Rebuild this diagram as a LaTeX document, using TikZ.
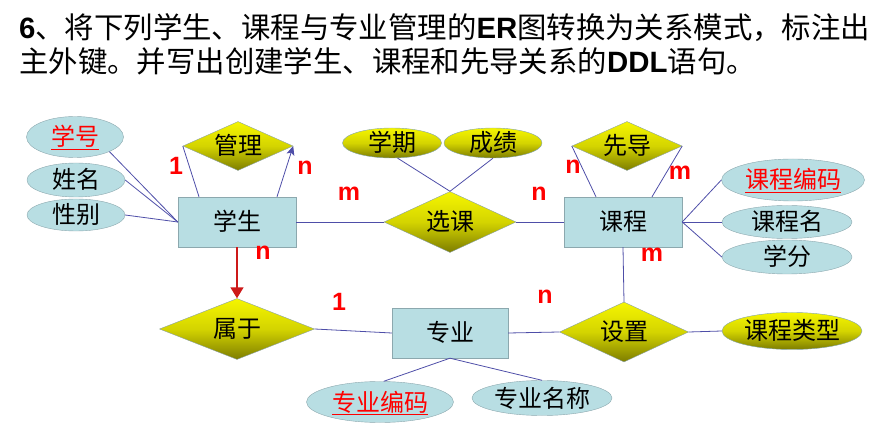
\documentclass[tikz,border=0pt]{standalone}
\usepackage{fontspec}
\setmainfont{Liberation Sans}
\newfontfamily\cjk{Noto Sans CJK SC}
\usetikzlibrary{shapes.geometric, arrows.meta}

\definecolor{attrfill}{RGB}{184,222,227}
\definecolor{attrline}{RGB}{140,168,174}
\definecolor{linkblue}{RGB}{78,78,168}
\definecolor{ylwtop}{RGB}{245,245,0}
\definecolor{ylwmid}{RGB}{212,212,0}
\definecolor{ylwbot}{RGB}{125,125,0}
\definecolor{arrowred}{RGB}{205,25,25}

\tikzset{
  txt/.style={inner sep=0pt, text height=19pt, text depth=1pt, font=\cjk\fontsize{24}{26}\selectfont},
  entity/.style={txt, rectangle, draw=attrline, fill=attrfill, minimum width=118pt, minimum height=50pt},
  rel/.style={txt, diamond, aspect=2, draw=attrline!80!gray, top color=ylwtop, bottom color=ylwbot, middle color=ylwmid},
  attr/.style={txt, ellipse, draw=attrline, fill=attrfill, minimum width=98pt, minimum height=34pt},
  yattr/.style={attr, top color=ylwtop, bottom color=ylwbot, middle color=ylwmid},
  key/.style={text=red},
  link/.style={draw=linkblue, line width=0.8pt},
  navyarrow/.style={link, -{Stealth[length=9pt, width=8pt, inset=2pt]}},
  redarrow/.style={draw=arrowred, line width=1.5pt, -{Triangle[length=11pt, width=13pt]}},
  card/.style={inner sep=0pt, text=red, font=\bfseries\fontsize{25}{25}\selectfont}
}

\begin{document}
\begin{tikzpicture}[>=latex, x=1pt, y=-1pt]
    \useasboundingbox (0,0) rectangle (892,430);

    % question
    \draw(19,39) node[anchor=base west, inner sep=0pt, font=\fontsize{29.4}{34}\selectfont] (q1)
        {\textbf{6}{\cjk 、将下列学生、课程与专业管理的}\textbf{ER}{\cjk 图转换为关系模式，标注出}};
    \draw(19,73) node[anchor=base west, inner sep=0pt, font=\fontsize{29.4}{34}\selectfont] (q2)
        {{\cjk 主外键。并写出创建学生、课程和先导关系的}\textbf{DDL}{\cjk 语句。}};

    % entities
    \draw(237,222) node[entity] (stu) {学生};
    \draw(623,222) node[entity] (crs) {课程};
    \draw(450,333) node[entity, minimum width=116pt] (maj) {专业};

    % relationships
    \draw(238,146) node[rel, minimum width=110pt, minimum height=49pt] (mgr) {管理};
    \draw(450,222) node[rel, minimum width=132pt, minimum height=61pt] (sel) {选课};
    \draw(627,146) node[rel, minimum width=110pt, minimum height=49pt] (pre) {先导};
    \draw(237,329) node[rel, minimum width=155pt, minimum height=61pt] (blg) {属于};
    \draw(624,332) node[rel, minimum width=129pt, minimum height=60pt] (arr) {设置};

    % attributes
    \draw(75,137) node[attr, key, minimum width=97pt, minimum height=41pt] (sno) {\underline{学号}};
    \draw(76,180) node[attr] (sname) {姓名};
    \draw(76,215) node[attr, minimum height=32pt] (ssex) {性别};
    \draw(392,143) node[yattr, minimum width=99pt, minimum height=30pt] (term) {学期};
    \draw(493,143) node[yattr, minimum height=30pt] (grade) {成绩};
    \draw(793,180) node[attr, key, minimum width=143pt, minimum height=42pt] (cno) {\underline{课程编码}};
    \draw(787,222) node[attr, minimum width=130pt, minimum height=33pt] (cname) {课程名};
    \draw(787,257) node[attr, minimum width=130pt] (credit) {学分};
    \draw(792,331) node[yattr, minimum width=140pt, minimum height=37pt] (ctype) {课程类型};
    \draw(380,402) node[attr, key, minimum width=147pt, minimum height=41pt] (mno) {\underline{专业编码}};
    \draw(542,398) node[attr, minimum width=140pt, minimum height=35pt] (mname) {专业名称};

    % connectors
    \draw[link] (sno.south east) -- (stu.west);
    \draw[link] (sname.east) -- (stu.west);
    \draw[link] (ssex.east) -- (stu.west);
    \draw[link] ([xshift=-38pt]stu.north) -- (mgr.west);
    \draw[navyarrow] ([xshift=40pt]stu.north) -- (mgr.east);
    \draw[link] (stu.east) -- (sel.west);
    \draw[link] (sel.east) -- (crs.west);
    \draw[link] (term.-70) -- (sel.north);
    \draw[link] (grade.south) -- (sel.north);
    \draw[link] ([xshift=-27pt]crs.north) -- (pre.west);
    \draw[link] ([xshift=29pt]crs.north) -- (pre.east);
    \draw[link] (crs.east) -- (cno.west);
    \draw[link] (crs.east) -- (cname.west);
    \draw[link] (crs.east) -- (credit.west);
    \draw[link] (crs.south) -- (arr.north);
    \draw[link] (maj.east) -- (arr.west);
    \draw[link] (arr.east) -- (ctype.west);
    \draw[link] (blg.east) -- (maj.west);
    \draw[link] (maj.south) -- (mno.80);
    \draw[link] (maj.south) -- (mname.north);
    \draw[redarrow] (stu.south) -- (blg.north);

    % cardinalities
    \draw(176,166) node[card] (k1) {1};
    \draw(305,168) node[card] (k2) {n};
    \draw(349,194) node[card] (k3) {m};
    \draw(539,194) node[card] (k4) {n};
    \draw(573,167) node[card] (k5) {n};
    \draw(680,173) node[card] (k6) {m};
    \draw(263,253) node[card] (k7) {n};
    \draw(652,255) node[card] (k8) {m};
    \draw(339,302) node[card] (k9) {1};
    \draw(545,297) node[card] (k10) {n};

    \end{tikzpicture}
\end{document}
